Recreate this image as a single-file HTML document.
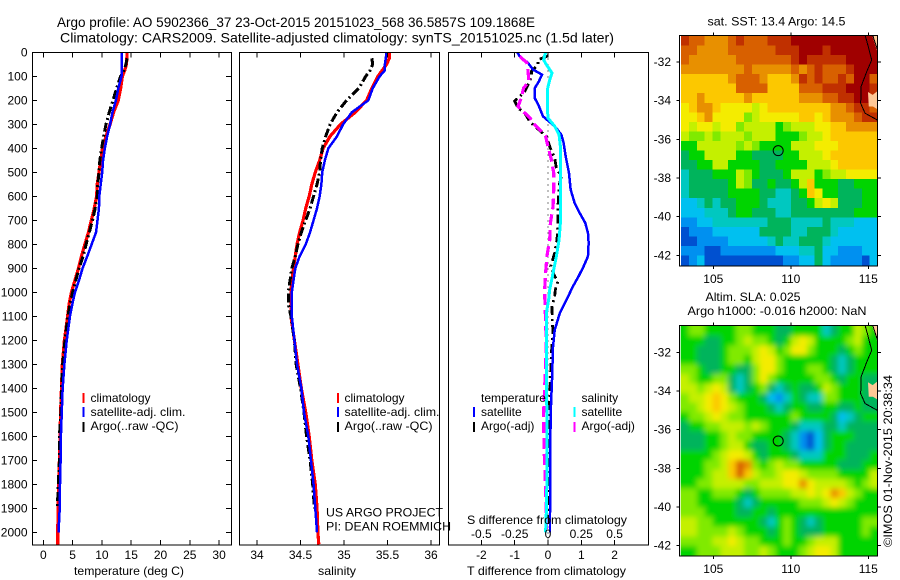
<!DOCTYPE html>
<html>
<head>
<meta charset="utf-8">
<title>Argo profile</title>
<style>
html,body{margin:0;padding:0;background:#fff;}
svg{display:block;font-family:"Liberation Sans",sans-serif;font-size:12px;fill:#000;}
.t{font-size:12px;}
</style>
</head>
<body>
<svg id="figure" xmlns="http://www.w3.org/2000/svg" width="900" height="580" viewBox="0 0 900 580">
<defs>
<filter id="soft-field" filterUnits="userSpaceOnUse" x="640" y="300" width="260" height="280"><feGaussianBlur stdDeviation="2.6"/></filter>
<clipPath id="sst-clip"><rect x="680.7" y="36" width="196.8" height="230"/></clipPath>
<clipPath id="sla-clip"><rect x="680.7" y="326" width="196.8" height="230"/></clipPath>
</defs>
<rect x="0" y="0" width="900" height="580" fill="#fff"/>
<text x="57" y="27" font-size="14" textLength="478" lengthAdjust="spacingAndGlyphs">Argo profile: AO 5902366_37 23-Oct-2015 20151023_568 36.5857S 109.1868E</text>
<text x="60" y="42.5" font-size="14" textLength="554" lengthAdjust="spacingAndGlyphs">Climatology: CARS2009. Satellite-adjusted climatology: synTS_20151025.nc (1.5d later)</text>

<g id="panels"></g>

<text x="74" y="575" textLength="110" lengthAdjust="spacingAndGlyphs">temperature (deg C)</text>
<text x="318" y="575" textLength="38" lengthAdjust="spacingAndGlyphs">salinity</text>
<text x="467" y="575" textLength="159" lengthAdjust="spacingAndGlyphs">T difference from climatology</text>
<text x="467" y="524" textLength="160" lengthAdjust="spacingAndGlyphs">S difference from climatology</text>

<g>
<rect x="82.5" y="393" width="2" height="10" fill="#f00"/>
<rect x="82.5" y="407" width="2" height="10" fill="#00f"/>
<rect x="82.5" y="422" width="2" height="10" fill="#000"/>
<text x="90.5" y="402">climatology</text>
<text x="90.5" y="416" textLength="95" lengthAdjust="spacingAndGlyphs">satellite-adj. clim.</text>
<text x="90.5" y="430" textLength="88" lengthAdjust="spacingAndGlyphs">Argo(..raw -QC)</text>
</g>
<g>
<rect x="337" y="393" width="2" height="10" fill="#f00"/>
<rect x="337" y="407" width="2" height="10" fill="#00f"/>
<rect x="337" y="422" width="2" height="10" fill="#000"/>
<text x="344.5" y="402">climatology</text>
<text x="344.5" y="416" textLength="95" lengthAdjust="spacingAndGlyphs">satellite-adj. clim.</text>
<text x="344.5" y="430" textLength="88" lengthAdjust="spacingAndGlyphs">Argo(..raw -QC)</text>
</g>
<g>
<text x="481" y="402" textLength="65" lengthAdjust="spacingAndGlyphs">temperature</text>
<text x="481" y="416">satellite</text>
<text x="481" y="430">Argo(-adj)</text>
<text x="581.5" y="402">salinity</text>
<text x="581.5" y="416">satellite</text>
<text x="581.5" y="430">Argo(-adj)</text>
<rect x="473" y="407" width="2" height="10" fill="#00f"/>
<rect x="473" y="422" width="2" height="10" fill="#000"/>
<rect x="573.5" y="407" width="2" height="10" fill="#0ff"/>
<rect x="573.5" y="422" width="2" height="10" fill="#f0f"/>
</g>
<text x="326" y="516.5" textLength="117" lengthAdjust="spacingAndGlyphs">US ARGO PROJECT</text>
<text x="326" y="530.5" textLength="125" lengthAdjust="spacingAndGlyphs">PI: DEAN ROEMMICH</text>

<g id="maps"></g>

<text x="707.5" y="25.5" textLength="138" lengthAdjust="spacingAndGlyphs">sat. SST: 13.4 Argo: 14.5</text>
<text x="705.5" y="301" textLength="95" lengthAdjust="spacingAndGlyphs">Altim. SLA: 0.025</text>
<text x="687.5" y="315" textLength="179" lengthAdjust="spacingAndGlyphs">Argo h1000: -0.016 h2000: NaN</text>
<text transform="translate(892,547) rotate(-90)" textLength="172" lengthAdjust="spacingAndGlyphs">©IMOS 01-Nov-2015 20:38:34</text>
</svg>
<script>
// ---------- profile data ----------
const depths = [0,25,50,75,100,150,200,250,300,350,400,450,500,550,600,650,700,750,800,850,900,950,1000,1050,1100,1200,1300,1400,1500,1600,1700,1800,1900,2000,2050];
const tempClim = [14.3,14.25,14.2,13.9,13.5,13.2,12.8,12.0,11.4,10.7,10.1,9.8,9.5,9.2,9.1,8.7,8.2,7.7,7.1,6.5,6.0,5.4,4.8,4.4,4.15,3.6,3.25,3.1,2.95,2.85,2.75,2.6,2.55,2.45,2.45];
const tempSat = [13.4,13.4,13.4,13.4,13.35,12.8,12.4,11.8,11.4,10.9,10.5,10.2,10.05,9.8,9.55,9.5,9.25,9.0,8.25,7.5,6.7,6.1,5.4,4.95,4.55,4.0,3.6,3.3,3.15,3.0,2.95,2.85,2.8,2.6,null];
const tempArgo = [null,14.3,14.1,13.75,13.2,12.5,11.9,11.25,10.7,10.3,9.95,9.65,9.5,9.3,9.2,8.85,8.4,7.85,7.3,6.8,6.1,5.55,5.0,4.55,4.2,3.7,3.3,3.1,3.0,2.75,2.75,2.55,2.4,null,null];
const salClim = [35.52,35.52,35.49,35.44,35.39,35.32,35.26,35.13,34.96,34.84,34.76,34.72,34.67,34.63,34.6,34.56,34.53,34.49,34.46,34.44,34.42,34.4,34.39,34.39,34.39,34.43,34.47,34.51,34.56,34.6,34.63,34.67,34.69,34.7,34.71];
const salSat = [35.49,35.48,35.47,35.47,35.41,35.33,35.28,35.09,34.99,34.92,34.82,34.78,34.75,34.74,34.72,34.69,34.65,34.61,34.56,34.49,34.44,34.42,34.4,34.4,34.4,34.43,34.46,34.51,34.54,34.59,34.62,34.65,34.67,34.69,null];
const salArgo = [null,35.32,35.33,35.30,35.25,35.17,35.03,34.92,34.84,34.79,34.75,34.73,34.72,34.69,34.65,34.61,34.56,34.51,34.47,34.44,34.4,34.38,34.36,34.36,34.39,34.43,34.45,34.5,34.54,34.57,34.61,34.64,34.66,null,null];
const tSatDepths = [0,17,44,72,93,120,150,190,225,267,308,343,378,433,503,572,628,669,711,753,794,850,892,933,975,1033,1089,1158,1228,1367,1506,1644,1783,1922,2000];
const tSatDiff = [-.92,-.85,-.6,-.45,-.18,-.27,-.4,-.4,-.27,-.15,.2,.4,.47,.53,.63,.68,.8,.95,1.12,1.2,1.22,1.2,1.07,.92,.75,.55,.35,.2,.15,.12,.08,.07,.07,.06,.06];
const tArgoDepths = [15,31,51,79,100,121,163,204,232,253,288,308,350,399,440,482,517,558,642,711,781,836,892,933,954,989,1017,1061,1117,1172,1256,1367,1506,1644,1783,1922,1978];
const tArgoDiff = [0,-.3,-.3,-.5,-.5,-.55,-.7,-1.0,-.9,-.7,-.55,-.4,-.05,.07,.2,.25,.4,.33,.3,.3,.27,.2,.08,.2,.3,.22,.2,.12,.13,.15,.1,.07,.03,.01,.03,.03,.03];
const sSatDepths = [0,31,51,86,114,156,225,274,308,343,392,503,711,781,850,919,989,1030,1089,1228,1367,1506,1644,1783,1922,2000];
const sSatDiff = [-.018,-.033,-.013,.03,.013,-.005,-.005,0,.05,.083,.093,.093,.093,.083,.063,.038,.013,.005,-.013,-.013,-.013,-.008,-.008,-.008,-.013,-.018];
const sArgoDepths = [17,44,79,121,149,190,225,246,274,294,322,350,392,447,503,572,642,711,781,850,919,989,1047,1117,1228,1367,1506,1644,1783,1922,2000];
const sArgoDiff = [-.2125,-.158,-.15,-.143,-.183,-.2,-.225,-.188,-.133,-.113,-.063,-.018,0,.025,.043,.043,.038,.018,.013,-.008,-.018,-.025,-.023,-.018,-.013,-.023,-.033,-.03,-.02,-.013,-.013];
const zeroLineDepths = [0,2050];
const zeroLineValues = [0,0];

// ---------- tick labels ----------
const depthTicks = [0,100,200,300,400,500,600,700,800,900,1000,1100,1200,1300,1400,1500,1600,1700,1800,1900,2000];
const tempTicks = [0,5,10,15,20,25,30];
const salTicks = [34,34.5,35,35.5,36];
const tDiffTicks = [-2,-1,0,1,2];
const sDiffTicks = [-0.5,-0.25,0,0.25,0.5];
const lonTicks = [105,110,115];
const latTicks = [-32,-34,-36,-38,-40,-42];

// ---------- map data (colour-class per half-degree cell) ----------
const sstGrid = [
[1,2,2,3,3,3,2,1,2,2,2,1,1,1,0,0,0,0,0,0,0,0,0,0,0],
[2,2,3,3,3,3,2,2,2,2,2,2,1,1,1,0,0,0,1,0,0,0,0,0,0],
[2,3,3,3,3,3,3,2,2,2,2,2,2,2,1,0,1,1,1,1,1,0,0,0,0],
[3,3,3,3,3,3,3,3,2,3,3,3,3,3,2,3,2,1,2,2,2,1,0,0,0],
[4,4,4,4,4,4,3,2,2,2,3,4,4,4,3,1,2,1,2,2,1,2,0,0,2],
[4,4,4,4,4,4,4,2,2,2,2,4,4,4,4,2,2,2,1,1,1,0,0,0,1],
[4,4,3,4,4,4,4,4,3,4,4,4,4,4,4,3,3,3,2,2,1,1,0,0,1],
[5,4,3,3,4,5,5,5,5,6,5,4,4,4,4,4,4,4,4,3,3,2,1,1,2],
[5,5,4,3,5,5,5,5,7,6,5,5,5,5,5,4,4,5,4,3,3,3,2,1,1],
[5,6,5,5,6,5,5,7,6,6,6,6,8,7,6,6,6,5,5,4,4,3,3,3,3],
[6,7,7,6,7,6,6,6,7,6,6,6,8,8,8,7,6,6,5,4,4,4,4,4,4],
[8,8,6,6,6,6,6,7,6,7,8,8,8,8,6,6,6,5,5,5,4,4,4,4,4],
[9,8,8,6,6,6,6,8,8,9,9,9,9,8,8,6,6,6,5,4,4,4,4,4,4],
[9,9,8,8,6,6,8,8,8,8,9,9,8,8,8,8,6,6,6,5,4,4,4,4,4],
[10,9,9,9,8,8,8,6,7,8,9,9,9,8,6,6,6,8,7,6,6,5,5,5,5],
[10,9,9,9,9,9,8,6,7,9,9,8,9,9,8,6,4,8,8,8,9,9,8,8,8],
[10,9,9,9,9,9,8,8,8,8,9,9,10,10,9,8,4,5,8,8,9,9,9,8,8],
[11,11,10,9,10,9,9,8,8,8,9,10,10,10,9,9,8,6,5,6,9,9,9,8,8],
[11,11,11,10,10,10,9,8,8,9,9,9,10,10,9,9,9,9,9,9,9,9,8,8,8],
[12,12,11,11,10,10,10,10,10,10,10,9,9,9,10,10,10,10,9,10,10,10,11,11,11],
[13,12,12,12,11,11,11,11,11,11,9,9,9,9,10,10,9,9,9,10,11,11,11,11,11],
[13,13,12,12,12,12,11,11,11,11,11,10,9,10,10,9,9,9,10,11,11,11,11,11,11],
[12,12,12,13,13,12,12,12,12,12,12,12,11,11,11,10,10,9,11,11,12,12,12,11,11],
[13,12,11,13,13,13,13,13,13,13,13,13,13,12,12,11,11,9,11,12,12,12,12,13,11]
];
const slaGrid = [
[8,7,7,8,8,8,8,7,7,8,8,8,9,9,8,8,8,8,10,9,8,8,6,7,8],
[8,8,8,9,9,8,8,7,6,7,7,8,9,8,6,5,6,8,8,8,8,7,6,8,8],
[8,8,9,9,9,8,7,7,7,6,5,6,8,7,5,5,7,8,8,8,9,8,7,8,8],
[8,8,9,9,9,8,7,7,8,6,5,5,7,8,8,8,8,8,8,9,10,9,8,8,8],
[7,7,8,9,9,8,8,9,9,7,5,5,7,8,8,8,7,7,8,9,10,9,8,8,8],
[6,7,8,8,7,7,9,10,9,7,5,7,8,8,8,8,8,7,7,8,9,8,8,9,9],
[6,6,7,6,5,6,9,10,9,8,7,9,10,9,8,9,9,8,6,7,8,8,8,9,9],
[7,6,6,5,4,5,7,8,8,8,9,11,12,10,8,9,10,10,7,7,8,8,8,9,9],
[7,7,6,5,4,5,6,7,8,8,8,9,10,9,8,8,9,9,8,8,9,9,8,9,9],
[8,7,7,6,5,6,7,7,8,8,8,8,8,8,7,8,8,8,8,9,11,10,9,8,8],
[9,8,8,7,7,6,6,6,7,6,7,8,8,8,9,10,10,10,9,9,10,9,9,9,9],
[9,9,9,8,8,7,6,7,7,8,8,8,8,9,10,12,13,11,9,8,8,8,9,9,9],
[9,9,9,8,8,7,6,6,8,9,9,8,8,9,10,12,13,11,9,8,8,9,9,9,9],
[8,8,8,8,7,6,5,5,6,8,9,8,8,8,9,10,10,10,8,8,8,9,9,9,8],
[8,8,8,7,7,6,4,2,3,7,8,7,6,7,7,8,8,8,8,8,9,9,9,8,8],
[8,8,8,7,6,6,4,2,4,6,7,7,6,5,5,6,7,7,7,7,8,8,8,8,6],
[8,8,7,7,6,6,6,6,7,7,6,6,6,5,5,3,5,6,6,6,6,7,8,7,6],
[7,7,8,8,7,7,7,8,9,8,7,7,7,7,6,6,5,6,5,3,4,6,7,8,8],
[7,7,8,8,8,8,8,9,10,9,8,8,8,8,8,7,7,7,6,5,6,7,8,8,8],
[7,7,7,8,8,8,8,9,9,8,8,9,8,8,8,8,8,8,8,8,8,8,8,8,8],
[6,6,7,7,8,8,8,8,8,8,9,10,8,7,8,9,10,9,8,8,8,8,8,7,7],
[6,6,7,7,7,7,6,7,8,8,8,9,8,7,8,9,9,9,8,8,8,8,8,7,8],
[7,7,7,7,6,6,5,6,7,7,8,8,8,7,8,8,7,6,6,6,8,8,8,8,8],
[8,8,7,7,7,6,6,6,7,7,6,7,8,8,8,7,6,5,5,6,8,8,8,8,8]
];
const colorClasses = ['#a00000','#c03000','#d86000','#e89000','#fcc800','#f4ec00','#c4f000','#80ea00','#00d400','#00b45c','#00c8c0','#00c0f0','#0090f0','#0050d0'];
const coastLon = [114.79,114.94,115.22,114.9,114.53,114.51,114.79,115.58];
const coastLat = [-30.6,-31.03,-31.9,-32.5,-33.28,-34.14,-34.65,-35.0];
const shoreLon = [115.28,115.6];
const shoreLat = [-30.6,-31.38];
const landNorthLon = [115.24,115.6,115.6];
const landNorthLat = [-30.6,-30.6,-31.5];
const islandLon = [114.98,115.28,115.6,115.6,115.3,115.03];
const islandLat = [-33.55,-33.7,-33.5,-34.45,-34.3,-34.3];
const profileLon = 109.1868;
const profileLat = -36.5857;

// ---------- axis functions ----------
const NS = 'http://www.w3.org/2000/svg';
const panelsG = document.getElementById('panels');
const mapsG = document.getElementById('maps');
const PANEL_TOP = 52.5, PANEL_BOTTOM = 545;
function yDepth(d){ return 52.3 + 0.24 * d; }
function xTemp(v){ return 43.3 + 5.86 * v; }
function xSal(v){ return 257 + 87 * (v - 34); }
function xTDiff(v){ return 548 + 33.3 * v; }
function xSDiff(v){ return 548 + 133.2 * v; }

function addLine(parent, x1, y1, x2, y2, name){
  const el = document.createElementNS(NS, 'line');
  el.setAttribute('x1', x1);
  el.setAttribute('y1', y1);
  el.setAttribute('x2', x2);
  el.setAttribute('y2', y2);
  el.setAttribute('stroke', '#000');
  el.setAttribute('shape-rendering', 'crispEdges');
  
  
  parent.appendChild(el);
  return el;
}
function addText(parent, x, y, str, anchor, name){
  const el = document.createElementNS(NS, 'text');
  el.setAttribute('x', x);
  el.setAttribute('y', y);
  el.setAttribute('text-anchor', anchor);
  el.textContent = str;
  
  
  parent.appendChild(el);
  return el;
}
function addFrame(parent, x, y, w, h, name){
  const el = document.createElementNS(NS, 'rect');
  el.setAttribute('x', x);
  el.setAttribute('y', y);
  el.setAttribute('width', w);
  el.setAttribute('height', h);
  el.setAttribute('fill', 'none');
  el.setAttribute('stroke', '#000');
  el.setAttribute('stroke-width', '1.3');
  el.setAttribute('shape-rendering', 'crispEdges');
  
  
  parent.appendChild(el);
}
function addSeries(parent, name, ds, vals, xFn, color, width, dash){
  let d = '';
  let pen = false;
  for (let i = 0; i < vals.length; i++){
    if (vals[i] === null){ pen = false; continue; }
    d += (pen ? 'L' : 'M') + xFn(vals[i]).toFixed(2) + ' ' + yDepth(ds[i]).toFixed(2);
    pen = true;
  }
  const el = document.createElementNS(NS, 'path');
  el.setAttribute('d', d);
  el.setAttribute('fill', 'none');
  el.setAttribute('stroke', color);
  el.setAttribute('stroke-width', width);
  if (dash) el.setAttribute('stroke-dasharray', dash);
  el.setAttribute('shape-rendering', 'crispEdges');
  
  
  parent.appendChild(el);
}

// ---------- temperature panel ----------
addSeries(panelsG, 'temperature-climatology-line', depths, tempClim, xTemp, '#f00', 3.2);
addSeries(panelsG, 'temperature-argo-line', depths, tempArgo, xTemp, '#000', 3, '9 3 2 3');
addSeries(panelsG, 'temperature-satellite-line', depths, tempSat, xTemp, '#00f', 2.5);
addFrame(panelsG, 32.5, PANEL_TOP, 199, PANEL_BOTTOM - PANEL_TOP, 'temperature-plot-frame');
depthTicks.forEach(function(d){
  addLine(panelsG, 32.5, yDepth(d), 37, yDepth(d), 'depth-tick');
  addLine(panelsG, 226, yDepth(d), 231.5, yDepth(d), 'depth-tick');
  addText(panelsG, 27.5, yDepth(d) + 4, String(d), 'end', 'depth-tick-label');
});
tempTicks.forEach(function(v){
  addLine(panelsG, xTemp(v), PANEL_TOP, xTemp(v), PANEL_TOP + 5, 'temperature-tick');
  addLine(panelsG, xTemp(v), PANEL_BOTTOM - 5, xTemp(v), PANEL_BOTTOM, 'temperature-tick');
  addText(panelsG, xTemp(v), 559, String(v), 'middle', 'temperature-tick-label');
});

// ---------- salinity panel ----------
addSeries(panelsG, 'salinity-climatology-line', depths, salClim, xSal, '#f00', 3.2);
addSeries(panelsG, 'salinity-argo-line', depths, salArgo, xSal, '#000', 3, '9 3 2 3');
addSeries(panelsG, 'salinity-satellite-line', depths, salSat, xSal, '#00f', 2.5);
addFrame(panelsG, 239.5, PANEL_TOP, 200, PANEL_BOTTOM - PANEL_TOP, 'salinity-plot-frame');
salTicks.forEach(function(v){
  addLine(panelsG, xSal(v), PANEL_TOP, xSal(v), PANEL_TOP + 5, 'salinity-tick');
  addLine(panelsG, xSal(v), PANEL_BOTTOM - 5, xSal(v), PANEL_BOTTOM, 'salinity-tick');
  addText(panelsG, xSal(v), 559, String(v), 'middle', 'salinity-tick-label');
});

// ---------- difference panel ----------
addSeries(panelsG, 'zero-difference-line', zeroLineDepths, zeroLineValues, xTDiff, '#000', 1, '1 5');
addSeries(panelsG, 't-difference-argo-line', tArgoDepths, tArgoDiff, xTDiff, '#000', 2.8, '9 4 2 4');
addSeries(panelsG, 't-difference-satellite-line', tSatDepths, tSatDiff, xTDiff, '#00f', 2.5);
addSeries(panelsG, 's-difference-argo-line', sArgoDepths, sArgoDiff, xSDiff, '#f0f', 3.2, '11 5');
addSeries(panelsG, 's-difference-satellite-line', sSatDepths, sSatDiff, xSDiff, '#0ff', 3);
addFrame(panelsG, 448.5, PANEL_TOP, 200, PANEL_BOTTOM - PANEL_TOP, 'difference-plot-frame');
tDiffTicks.forEach(function(v){
  addLine(panelsG, xTDiff(v), PANEL_TOP, xTDiff(v), PANEL_TOP + 5, 't-difference-tick');
  addLine(panelsG, xTDiff(v), PANEL_BOTTOM - 5, xTDiff(v), PANEL_BOTTOM, 't-difference-tick');
  addText(panelsG, xTDiff(v), 559, String(v), 'middle', 't-difference-tick-label');
});
sDiffTicks.forEach(function(v){
  addText(panelsG, xSDiff(v), 538, String(v), 'middle', 's-difference-tick-label');
});

// ---------- maps ----------
const LON_REF = 105, LON_PX = 713.3, LON_SCALE = 15.5;
const LAT_SCALE = 19.33;
const LON_START = 102.92;
const LAT_START = -30.65;
const CELL_LON = 0.507;
const CELL_LAT = 0.494;
function xLon(lon){ return LON_PX + (lon - LON_REF) * LON_SCALE; }
function polyPoints(lons, lats, yFn){
  return lons.map(function(lon, i){ return xLon(lon).toFixed(2) + ',' + yFn(lats[i]).toFixed(2); }).join(' ');
}
function drawMap(prefix, grid, yLat, frameTop, frameBottom, labelY, smooth){
  const g = document.createElementNS(NS, 'g');
  
  
  mapsG.appendChild(g);
  const clipG = document.createElementNS(NS, 'g');
  clipG.setAttribute('clip-path', 'url(#' + prefix + '-clip)');
  
  
  g.appendChild(clipG);
  const field = document.createElementNS(NS, 'g');
  if (smooth) field.setAttribute('filter', 'url(#soft-field)');
  
  
  clipG.appendChild(field);
  const pad = smooth ? 3 : 0;
  const rows = grid.length;
  const cols = grid[0].length;
  for (let r = -pad; r < rows + pad; r++){
    for (let c = -pad; c < cols + pad; c++){
      const level = grid[Math.max(0, Math.min(rows - 1, r))][Math.max(0, Math.min(cols - 1, c))];
      const x0 = xLon(LON_START + c * CELL_LON);
      const x1 = xLon(LON_START + (c + 1) * CELL_LON);
      const y0 = yLat(LAT_START - r * CELL_LAT);
      const y1 = yLat(LAT_START - (r + 1) * CELL_LAT);
      const cell = document.createElementNS(NS, 'rect');
      cell.setAttribute('x', x0.toFixed(2));
      cell.setAttribute('y', y0.toFixed(2));
      cell.setAttribute('width', (x1 - x0 + 0.4).toFixed(2));
      cell.setAttribute('height', (y1 - y0 + 0.4).toFixed(2));
      cell.setAttribute('fill', colorClasses[level]);
      cell.setAttribute('shape-rendering', 'crispEdges');
      
      
      field.appendChild(cell);
    }
  }
  const north = document.createElementNS(NS, 'polygon');
  north.setAttribute('points', polyPoints(landNorthLon, landNorthLat, yLat));
  north.setAttribute('fill', '#ffc896');
  
  
  g.appendChild(north);
  const island = document.createElementNS(NS, 'polygon');
  island.setAttribute('points', polyPoints(islandLon, islandLat, yLat));
  island.setAttribute('fill', '#ffc896');
  
  
  g.appendChild(island);
  const coast = document.createElementNS(NS, 'polyline');
  coast.setAttribute('points', polyPoints(coastLon, coastLat, yLat));
  coast.setAttribute('fill', 'none');
  coast.setAttribute('stroke', '#000');
  coast.setAttribute('shape-rendering', 'crispEdges');
  
  
  g.appendChild(coast);
  const shore = document.createElementNS(NS, 'polyline');
  shore.setAttribute('points', polyPoints(shoreLon, shoreLat, yLat));
  shore.setAttribute('fill', 'none');
  shore.setAttribute('stroke', '#000');
  shore.setAttribute('shape-rendering', 'crispEdges');
  
  
  g.appendChild(shore);
  const marker = document.createElementNS(NS, 'circle');
  marker.setAttribute('cx', xLon(profileLon).toFixed(2));
  marker.setAttribute('cy', yLat(profileLat).toFixed(2));
  marker.setAttribute('r', '5');
  marker.setAttribute('fill', 'none');
  marker.setAttribute('stroke', '#000');
  
  
  g.appendChild(marker);
  addFrame(g, 679.5, frameTop, 198, frameBottom - frameTop, prefix + '-map-frame');
  lonTicks.forEach(function(v){
    addLine(g, xLon(v), frameTop - 3, xLon(v), frameTop, prefix + '-longitude-tick');
    addLine(g, xLon(v), frameBottom, xLon(v), frameBottom + 3, prefix + '-longitude-tick');
    addText(g, xLon(v), labelY, String(v), 'middle', prefix + '-longitude-label');
  });
  latTicks.forEach(function(v){
    addLine(g, 676.5, yLat(v), 679.5, yLat(v), prefix + '-latitude-tick');
    addLine(g, 877.5, yLat(v), 881, yLat(v), prefix + '-latitude-tick');
    addText(g, 671, yLat(v) + 4, String(v), 'end', prefix + '-latitude-label');
  });
}
function yLatSst(lat){ return 62 + (-32 - lat) * LAT_SCALE; }
function yLatSla(lat){ return 352.3 + (-32 - lat) * LAT_SCALE; }
drawMap('sst', sstGrid, yLatSst, 35.5, 266, 283, false);
drawMap('sla', slaGrid, yLatSla, 325.5, 556, 573, true);
</script>
</body>
</html>
